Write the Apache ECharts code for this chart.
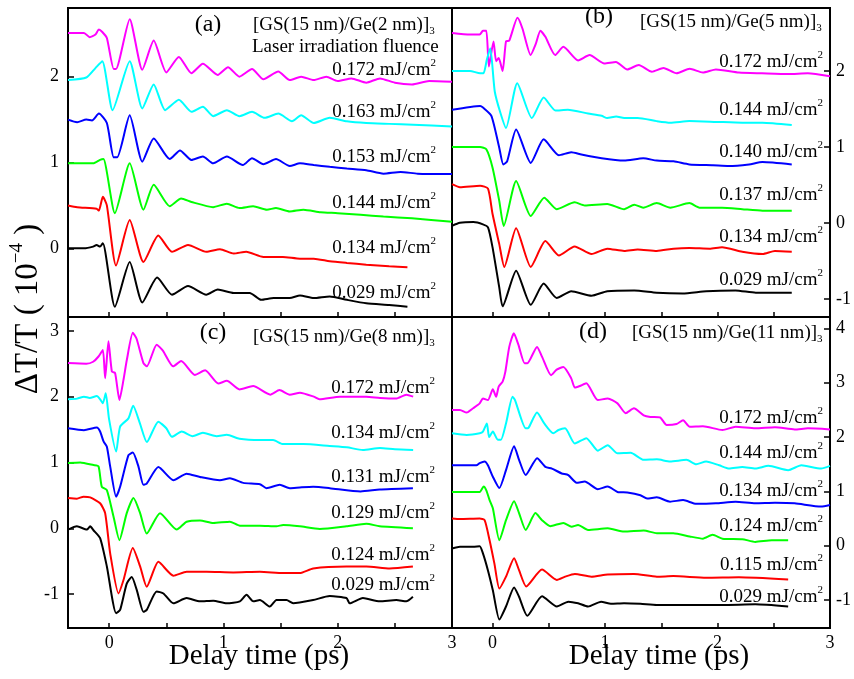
<!DOCTYPE html>
<html>
<head>
<meta charset="utf-8">
<script src="https://cdn.jsdelivr.net/npm/echarts@6/dist/echarts.min.js"></script>
<style>
html, body { margin: 0; padding: 0; background: #fff; }
#main { width: 854px; height: 679px; }
</style>
</head>
<body>
<div id="main"></div>
<script>
// [delay time (ps), dT/T (1e-4)], curves top to bottom

// (a) GS(15 nm)/Ge(2 nm)
const a172 = [[-0.36,2.51],[-0.22,2.51],[-0.17,2.46],[-0.12,2.49],[-0.09,2.55],[-0.06,2.52],[-0.02,2.45],[0.04,2.09],[0.06,2.09],[0.18,2.67],[0.29,2.08],[0.39,2.42],[0.50,2.05],[0.61,2.23],[0.72,2.04],[0.82,2.15],[0.95,2.02],[1.04,2.11],[1.14,2.00],[1.25,2.09],[1.35,1.97],[1.48,2.06],[1.58,1.96],[1.68,2.00],[1.79,1.96],[1.90,2.00],[2.00,1.95],[2.12,1.98],[2.25,1.93],[2.37,1.98],[2.50,1.93],[2.65,1.91],[2.80,1.95],[3.00,1.94]];
const a163 = [[-0.36,1.96],[-0.20,1.99],[-0.12,2.10],[-0.06,2.18],[0.03,1.61],[0.18,2.18],[0.29,1.63],[0.39,1.91],[0.49,1.61],[0.61,1.73],[0.72,1.59],[0.82,1.65],[0.91,1.54],[1.03,1.61],[1.14,1.54],[1.25,1.59],[1.36,1.52],[1.48,1.57],[1.60,1.48],[1.68,1.55],[1.79,1.46],[1.93,1.52],[2.08,1.48],[2.25,1.46],[2.45,1.45],[2.66,1.44],[3.00,1.42]];
const a153 = [[-0.36,1.50],[-0.28,1.47],[-0.20,1.50],[-0.15,1.49],[-0.09,1.57],[-0.02,1.46],[0.04,1.06],[0.07,1.06],[0.18,1.55],[0.29,1.01],[0.39,1.28],[0.53,1.04],[0.62,1.14],[0.72,1.03],[0.82,1.07],[0.91,0.99],[1.03,1.07],[1.17,0.97],[1.25,1.05],[1.35,0.98],[1.46,1.04],[1.58,0.96],[1.67,0.99],[1.79,0.97],[1.93,0.95],[2.08,0.93],[2.25,0.91],[2.40,0.87],[2.55,0.89],[2.70,0.87],[3.00,0.865]];
const a144 = [[-0.36,0.99],[-0.14,0.99],[-0.08,1.03],[-0.05,1.04],[0.05,0.41],[0.18,0.99],[0.30,0.45],[0.39,0.74],[0.53,0.49],[0.63,0.58],[0.72,0.54],[0.91,0.48],[1.03,0.52],[1.14,0.47],[1.26,0.49],[1.38,0.45],[1.46,0.47],[1.58,0.43],[1.70,0.45],[1.85,0.42],[2.00,0.41],[2.20,0.39],[2.40,0.37],[2.65,0.35],[3.00,0.31]];
const a134 = [[-0.36,0.50],[-0.28,0.48],[-0.11,0.46],[-0.09,0.44],[-0.055,0.60],[-0.02,0.50],[0.06,-0.20],[0.18,0.33],[0.30,-0.16],[0.43,0.15],[0.55,-0.04],[0.69,0.04],[0.85,-0.04],[0.97,-0.01],[1.09,-0.06],[1.20,-0.04],[1.35,-0.10],[1.52,-0.10],[1.67,-0.12],[1.79,-0.12],[1.93,-0.15],[2.08,-0.17],[2.25,-0.19],[2.45,-0.21],[2.61,-0.22]];
const a029 = [[-0.36,0.00],[-0.22,0.00],[-0.14,0.02],[-0.11,0.04],[-0.08,0.02],[-0.055,0.06],[0.05,-0.68],[0.18,-0.16],[0.29,-0.63],[0.42,-0.34],[0.55,-0.54],[0.69,-0.44],[0.85,-0.54],[0.95,-0.48],[1.09,-0.52],[1.23,-0.52],[1.33,-0.60],[1.44,-0.58],[1.58,-0.58],[1.67,-0.55],[1.79,-0.58],[1.93,-0.56],[2.08,-0.60],[2.25,-0.64],[2.45,-0.66],[2.61,-0.68]];

// (b) GS(15 nm)/Ge(5 nm)
const b172 = [[-0.36,2.50],[-0.20,2.48],[-0.114,2.48],[-0.085,2.53],[-0.055,2.53],[-0.032,2.06],[0.009,2.39],[0.032,2.13],[0.055,2.17],[0.09,2.00],[0.12,2.39],[0.149,2.40],[0.222,2.70],[0.266,2.56],[0.339,2.21],[0.383,2.35],[0.426,2.53],[0.47,2.45],[0.557,2.21],[0.63,2.32],[0.761,2.14],[0.863,2.21],[0.994,2.10],[1.097,2.12],[1.198,2.02],[1.30,2.08],[1.417,1.99],[1.52,2.04],[1.636,1.97],[1.753,2.03],[1.87,1.98],[1.986,2.02],[2.19,1.98],[2.395,1.97],[2.628,1.96],[2.803,1.97],[3.00,1.93]];
const b144 = [[-0.36,2.00],[-0.20,2.00],[-0.11,1.97],[-0.08,1.97],[-0.05,2.15],[-0.02,2.30],[0.02,1.73],[0.07,1.45],[0.12,1.25],[0.22,1.84],[0.35,1.38],[0.455,1.65],[0.56,1.48],[0.67,1.49],[0.85,1.44],[0.97,1.41],[1.02,1.38],[1.10,1.40],[1.17,1.38],[1.29,1.38],[1.46,1.34],[1.58,1.32],[1.75,1.34],[1.99,1.33],[2.22,1.32],[2.40,1.32],[2.66,1.29]];
const b140 = [[-0.36,1.49],[-0.11,1.54],[-0.085,1.52],[-0.01,1.41],[0.06,0.99],[0.096,0.77],[0.13,0.81],[0.21,1.23],[0.34,0.79],[0.455,1.10],[0.59,0.89],[0.70,0.93],[0.79,0.90],[0.97,0.85],[1.17,0.82],[1.34,0.85],[1.46,0.82],[1.61,0.81],[1.75,0.77],[1.96,0.76],[2.10,0.75],[2.28,0.77],[2.40,0.80],[2.66,0.77]];
const b137 = [[-0.36,1.00],[-0.11,1.00],[-0.055,0.97],[0.00,0.73],[0.06,0.29],[0.10,-0.04],[0.21,0.55],[0.34,0.09],[0.46,0.33],[0.57,0.18],[0.73,0.27],[0.82,0.23],[1.02,0.25],[1.17,0.18],[1.26,0.24],[1.34,0.20],[1.46,0.26],[1.58,0.20],[1.75,0.26],[1.84,0.20],[2.04,0.20],[2.22,0.18],[2.40,0.16],[2.66,0.16]];
const b134 = [[-0.36,0.51],[-0.29,0.47],[-0.11,0.49],[-0.04,0.45],[0.00,0.12],[0.06,-0.28],[0.105,-0.58],[0.21,-0.07],[0.34,-0.58],[0.47,-0.24],[0.59,-0.43],[0.73,-0.31],[0.88,-0.41],[1.02,-0.34],[1.17,-0.37],[1.29,-0.35],[1.46,-0.37],[1.61,-0.34],[1.75,-0.33],[1.93,-0.34],[2.04,-0.32],[2.22,-0.38],[2.40,-0.41],[2.51,-0.37],[2.66,-0.38]];
const b029 = [[-0.36,-0.04],[-0.29,0.00],[-0.17,0.01],[-0.085,-0.02],[-0.04,-0.06],[0.00,-0.32],[0.06,-0.85],[0.09,-1.10],[0.21,-0.63],[0.34,-1.08],[0.455,-0.80],[0.57,-0.99],[0.70,-0.90],[0.88,-0.96],[1.02,-0.90],[1.26,-0.89],[1.46,-0.92],[1.69,-0.93],[1.90,-0.90],[2.16,-0.89],[2.34,-0.92],[2.66,-0.92]];

// (c) GS(15 nm)/Ge(8 nm)
const c172 = [[-0.36,2.51],[-0.20,2.50],[-0.14,2.53],[-0.093,2.61],[-0.055,2.71],[-0.035,2.28],[-0.006,2.84],[0.024,2.38],[0.052,2.36],[0.09,1.95],[0.125,2.25],[0.155,2.56],[0.207,2.97],[0.24,2.88],[0.30,2.51],[0.33,2.46],[0.416,2.79],[0.47,2.70],[0.56,2.46],[0.63,2.54],[0.75,2.33],[0.84,2.40],[0.955,2.20],[1.03,2.24],[1.14,2.11],[1.26,2.16],[1.41,2.03],[1.49,2.10],[1.58,2.03],[1.67,2.06],[1.79,2.00],[1.84,1.96],[2.02,2.00],[2.25,2.00],[2.37,1.98],[2.51,1.97],[2.60,2.03],[2.66,2.00]];
const c134 = [[-0.36,1.96],[-0.28,1.97],[-0.22,2.00],[-0.17,1.98],[-0.108,2.01],[-0.079,1.96],[-0.055,1.90],[-0.03,2.05],[0.00,1.65],[0.061,1.165],[0.096,1.545],[0.169,1.67],[0.21,1.86],[0.27,1.59],[0.33,1.31],[0.43,1.62],[0.50,1.52],[0.55,1.39],[0.635,1.47],[0.73,1.40],[0.82,1.45],[0.94,1.40],[1.03,1.42],[1.14,1.36],[1.32,1.34],[1.435,1.34],[1.52,1.28],[1.70,1.28],[1.93,1.25],[2.08,1.23],[2.22,1.19],[2.37,1.22],[2.50,1.20],[2.66,1.19]];
const c131 = [[-0.36,1.52],[-0.22,1.49],[-0.108,1.53],[-0.079,1.47],[-0.049,1.32],[-0.02,1.24],[0.009,0.94],[0.061,0.48],[0.096,0.63],[0.169,1.11],[0.207,1.15],[0.256,0.94],[0.30,0.66],[0.329,0.68],[0.431,0.93],[0.562,0.73],[0.678,0.83],[0.795,0.78],[0.969,0.73],[1.057,0.76],[1.173,0.69],[1.319,0.67],[1.377,0.61],[1.493,0.66],[1.58,0.61],[1.668,0.62],[1.785,0.63],[1.93,0.61],[2.20,0.56],[2.367,0.59],[2.658,0.61]];
const c129 = [[-0.36,0.99],[-0.253,1.00],[-0.137,0.96],[-0.093,0.94],[-0.064,0.63],[-0.02,0.58],[0.038,0.18],[0.09,-0.18],[0.154,0.23],[0.213,0.46],[0.271,0.23],[0.329,-0.08],[0.445,0.23],[0.591,-0.02],[0.678,0.10],[0.795,0.12],[0.911,0.08],[1.057,0.10],[1.144,0.04],[1.319,0.04],[1.464,0.03],[1.523,0.05],[1.668,0.03],[1.843,-0.01],[2.076,0.03],[2.251,0.07],[2.367,0.03],[2.658,0.00]];
const c124 = [[-0.36,0.46],[-0.282,0.45],[-0.224,0.48],[-0.166,0.47],[-0.079,0.38],[-0.035,0.23],[0.009,-0.38],[0.082,-0.99],[0.125,-0.79],[0.207,-0.30],[0.271,-0.58],[0.329,-0.89],[0.431,-0.51],[0.562,-0.72],[0.678,-0.66],[0.853,-0.66],[1.086,-0.67],[1.319,-0.66],[1.523,-0.68],[1.668,-0.68],[1.785,-0.61],[2.076,-0.58],[2.251,-0.58],[2.455,-0.61],[2.658,-0.58]];
const c029 = [[-0.36,-0.02],[-0.282,0.03],[-0.195,-0.02],[-0.166,0.03],[-0.137,-0.03],[-0.079,-0.15],[-0.02,-0.58],[0.061,-1.29],[0.096,-1.24],[0.154,-0.84],[0.198,-0.74],[0.242,-0.94],[0.30,-1.27],[0.329,-1.24],[0.416,-0.96],[0.475,-0.99],[0.562,-1.14],[0.678,-1.06],[0.795,-1.11],[0.911,-1.10],[1.028,-1.14],[1.144,-1.11],[1.202,-1.01],[1.261,-1.11],[1.319,-1.09],[1.406,-1.19],[1.464,-1.09],[1.552,-1.09],[1.61,-1.14],[1.785,-1.09],[1.93,-1.03],[2.076,-1.06],[2.105,-1.14],[2.22,-1.06],[2.367,-1.11],[2.513,-1.09],[2.60,-1.11],[2.658,-1.04]];

// (d) GS(15 nm)/Ge(11 nm)
const d172 = [[-0.36,2.50],[-0.289,2.50],[-0.23,2.45],[-0.172,2.53],[-0.114,2.62],[-0.085,2.71],[-0.041,2.68],[0.003,2.88],[0.032,2.74],[0.055,2.93],[0.09,3.02],[0.114,3.20],[0.149,3.66],[0.19,3.91],[0.23,3.70],[0.285,3.36],[0.31,3.36],[0.396,3.66],[0.44,3.48],[0.52,3.14],[0.57,3.24],[0.63,3.29],[0.70,3.08],[0.732,2.91],[0.776,2.94],[0.834,2.99],[0.936,2.68],[1.024,2.71],[1.111,2.62],[1.184,2.44],[1.257,2.53],[1.344,2.40],[1.403,2.37],[1.49,2.36],[1.548,2.22],[1.636,2.24],[1.694,2.31],[1.753,2.19],[1.87,2.20],[2.044,2.13],[2.161,2.19],[2.336,2.16],[2.511,2.18],[2.686,2.14],[2.803,2.16],[3.00,2.14]];
const d144 = [[-0.36,2.07],[-0.23,2.04],[-0.114,2.07],[-0.085,2.10],[-0.05,2.25],[-0.03,2.00],[0.003,2.10],[0.047,1.95],[0.075,1.95],[0.12,2.25],[0.178,2.74],[0.20,2.68],[0.295,2.16],[0.32,2.17],[0.396,2.45],[0.46,2.25],[0.54,2.07],[0.586,2.13],[0.645,2.16],[0.732,1.88],[0.834,1.98],[0.936,1.75],[1.024,1.85],[1.111,1.70],[1.228,1.71],[1.344,1.58],[1.461,1.59],[1.578,1.55],[1.724,1.58],[1.811,1.50],[1.899,1.55],[2.015,1.48],[2.103,1.42],[2.22,1.45],[2.336,1.42],[2.453,1.47],[2.628,1.39],[2.745,1.48],[2.92,1.42],[3.00,1.47]];
const d134 = [[-0.36,1.48],[-0.143,1.48],[-0.114,1.52],[-0.07,1.55],[-0.041,1.48],[0.003,1.27],[0.061,1.06],[0.12,1.39],[0.192,1.83],[0.236,1.58],[0.295,1.30],[0.397,1.61],[0.47,1.45],[0.528,1.42],[0.615,1.33],[0.674,1.30],[0.747,1.16],[0.82,1.18],[0.936,1.04],[1.024,1.09],[1.111,0.99],[1.198,0.98],[1.315,0.93],[1.374,0.87],[1.461,0.89],[1.578,0.81],[1.694,0.84],[1.811,0.77],[1.986,0.78],[2.161,0.81],[2.336,0.78],[2.511,0.79],[2.686,0.78],[2.92,0.72],[3.00,0.75]];
const d124 = [[-0.36,0.99],[-0.114,0.99],[-0.079,1.09],[-0.055,1.02],[-0.026,0.84],[0.003,0.69],[0.061,0.10],[0.12,0.47],[0.192,0.82],[0.236,0.60],[0.295,0.29],[0.382,0.60],[0.44,0.47],[0.513,0.36],[0.63,0.42],[0.703,0.35],[0.761,0.38],[0.849,0.29],[1.024,0.32],[1.169,0.26],[1.344,0.28],[1.461,0.23],[1.607,0.23],[1.753,0.17],[1.87,0.13],[1.957,0.20],[2.044,0.13],[2.22,0.12],[2.336,0.07],[2.482,0.10],[2.628,0.10]];
const d115 = [[-0.36,0.50],[-0.289,0.49],[-0.114,0.50],[-0.07,0.47],[-0.026,0.10],[0.017,-0.33],[0.061,-0.79],[0.12,-0.57],[0.192,-0.23],[0.236,-0.45],[0.30,-0.75],[0.44,-0.44],[0.572,-0.63],[0.645,-0.57],[0.732,-0.52],[0.878,-0.57],[1.024,-0.53],[1.257,-0.52],[1.461,-0.57],[1.607,-0.56],[1.899,-0.59],[2.19,-0.58],[2.628,-0.62]];
const d029 = [[-0.36,-0.05],[-0.289,-0.02],[-0.172,-0.02],[-0.114,-0.01],[-0.085,-0.14],[-0.041,-0.45],[0.003,-0.82],[0.061,-1.36],[0.12,-1.12],[0.192,-0.77],[0.236,-0.94],[0.309,-1.29],[0.44,-0.93],[0.572,-1.12],[0.674,-1.03],[0.761,-1.06],[0.849,-1.12],[0.965,-1.03],[1.053,-1.07],[1.169,-1.06],[1.315,-1.07],[1.461,-1.09],[1.753,-1.09],[2.044,-1.09],[2.336,-1.08],[2.628,-1.12]];

// fluence labels (mJ/cm2), top to bottom
const fluenceA = ['0.172', '0.163', '0.153', '0.144', '0.134', '0.029'];
const fluenceB = ['0.172', '0.144', '0.140', '0.137', '0.134', '0.029'];
const fluenceC = ['0.172', '0.134', '0.131', '0.129', '0.124', '0.029'];
const fluenceD = ['0.172', '0.144', '0.134', '0.124', '0.115', '0.029'];

const xTicks = [0, 0.5, 1, 1.5, 2, 2.5, 3];
const xLabels = [0, 1, 2, 3];

const serif = 'Liberation Serif';
const colors = ['#ff00ff', '#00ffff', '#0000ff', '#00ff00', '#ff0000', '#000000'];

const panels = [
  { grid: { left: 68, top: 8, width: 384, height: 309 }, yMin: -0.80, yMax: 2.80, yTicks: [0, 1, 2], side: 'left', bottom: false,
    curves: [a172, a163, a153, a144, a134, a029], fluence: fluenceA, labRight: 436, labY: [70, 112, 157, 203, 248, 293],
    tag: '(a)', tagX: 208, tagY: 25, sample: '[GS(15 nm)/Ge(2 nm)]', sampleX: 253, sampleY: 25 },
  { grid: { left: 452, top: 8, width: 385, height: 309 }, yMin: -1.24, yMax: 2.83, yTicks: [-1, 0, 1, 2], side: 'right', bottom: false,
    curves: [b172, b144, b140, b137, b134, b029], fluence: fluenceB, labRight: 823, labY: [62, 110, 152, 195, 237, 280],
    tag: '(b)', tagX: 599, tagY: 17, sample: '[GS(15 nm)/Ge(5 nm)]', sampleX: 640, sampleY: 22 },
  { grid: { left: 68, top: 317, width: 384, height: 311 }, yMin: -1.515, yMax: 3.21, yTicks: [-1, 0, 1, 2, 3], side: 'left', bottom: true,
    curves: [c172, c134, c131, c129, c124, c029], fluence: fluenceC, labRight: 435, labY: [388, 433, 477, 513, 555, 585],
    tag: '(c)', tagX: 213, tagY: 333, sample: '[GS(15 nm)/Ge(8 nm)]', sampleX: 253, sampleY: 337 },
  { grid: { left: 452, top: 317, width: 385, height: 311 }, yMin: -1.515, yMax: 4.21, yTicks: [-1, 0, 1, 2, 3, 4], side: 'right', bottom: true,
    curves: [d172, d144, d134, d124, d115, d029], fluence: fluenceD, labRight: 823, labY: [418, 453, 491, 526, 565, 597],
    tag: '(d)', tagX: 593, tagY: 332, sample: '[GS(15 nm)/Ge(11 nm)]', sampleX: 632, sampleY: 333 }
];

const rich = {
  n: { fontFamily: serif, fontSize: 19, lineHeight: 24, verticalAlign: 'middle', color: '#000' },
  up: { fontFamily: serif, fontSize: 11, lineHeight: 24, verticalAlign: 'top', color: '#000' },
  dn: { fontFamily: serif, fontSize: 11, lineHeight: 24, verticalAlign: 'bottom', color: '#000' }
};

const grids = [], xAxes = [], yAxes = [], series = [], graphics = [];

panels.forEach((p, i) => {
  grids.push(Object.assign({ show: true, borderColor: '#000', borderWidth: 2, backgroundColor: 'transparent' }, p.grid));
  xAxes.push({
    type: 'value', gridIndex: i, min: -0.36, max: 3, position: 'bottom',
    axisLine: { show: true, onZero: false, lineStyle: { color: '#000', width: 2 } },
    axisTick: { show: true, inside: true, length: 5, customValues: xTicks, lineStyle: { color: '#000', width: 1.5 } },
    axisLabel: { show: p.bottom, customValues: xLabels, margin: 6, color: '#000', fontFamily: serif, fontSize: 18 },
    splitLine: { show: false }
  });
  yAxes.push({
    type: 'value', gridIndex: i, min: p.yMin, max: p.yMax, position: p.side,
    axisLine: { show: true, onZero: false, lineStyle: { color: '#000', width: 2 } },
    axisTick: { show: true, inside: true, length: 6, customValues: p.yTicks, lineStyle: { color: '#000', width: 1.5 } },
    axisLabel: { customValues: p.yTicks, margin: p.side === 'left' ? 9 : 6, color: '#000', fontFamily: serif, fontSize: 18 },
    splitLine: { show: false }
  });
  p.curves.forEach((c, j) => {
    series.push({
      type: 'line', xAxisIndex: i, yAxisIndex: i, data: c,
      showSymbol: false, smooth: 0.2, silent: true,
      lineStyle: { color: colors[j], width: 2 }, itemStyle: { color: colors[j] }
    });
    graphics.push({
      type: 'text', x: p.labRight, y: p.labY[j],
      style: { text: '{n|' + p.fluence[j] + ' mJ/cm}{up|2}', rich: rich, align: 'right', verticalAlign: 'middle' }
    });
  });
  graphics.push({
    type: 'text', x: p.tagX, y: p.tagY,
    style: { text: p.tag, fontFamily: serif, fontSize: 24, fill: '#000', align: 'center', verticalAlign: 'middle' }
  });
  graphics.push({
    type: 'text', x: p.sampleX, y: p.sampleY,
    style: { text: '{n|' + p.sample + '}{dn|3}', rich: rich, align: 'left', verticalAlign: 'middle' }
  });
});

graphics.push({
  type: 'text', x: 252, y: 47,
  style: { text: 'Laser irradiation fluence', fontFamily: serif, fontSize: 19, fill: '#000', align: 'left', verticalAlign: 'middle' }
});
['Delay time (ps)', 'Delay time (ps)'].forEach((t, k) => {
  graphics.push({
    type: 'text', x: k === 0 ? 259 : 659, y: 656,
    style: { text: t, fontFamily: serif, fontSize: 29, fill: '#000', align: 'center', verticalAlign: 'middle' }
  });
});
graphics.push({
  type: 'text', x: 28, y: 309, rotation: Math.PI / 2,
  style: {
    text: '{t|ΔT/T ( 10}{s|\u22124}{t| )}',
    rich: {
      t: { fontFamily: serif, fontSize: 33, lineHeight: 40, verticalAlign: 'middle', color: '#000' },
      s: { fontFamily: serif, fontSize: 19, lineHeight: 40, verticalAlign: 'top', color: '#000' }
    },
    align: 'center', verticalAlign: 'middle'
  }
});

const chart = echarts.init(document.getElementById('main'));
chart.setOption({
  animation: false,
  backgroundColor: '#fff',
  grid: grids,
  xAxis: xAxes,
  yAxis: yAxes,
  series: series,
  graphic: graphics
});
</script>
</body>
</html>
